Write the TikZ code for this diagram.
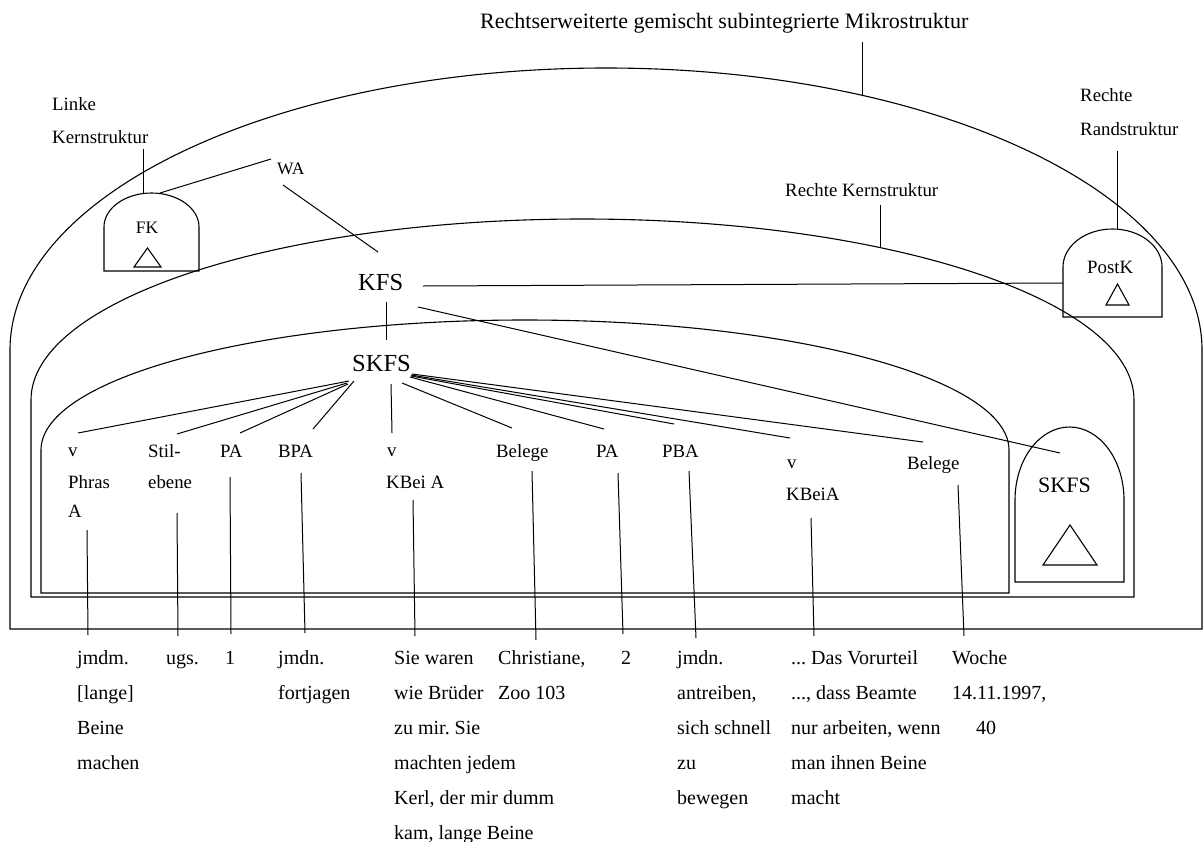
\documentclass[tikz,border=0pt]{standalone}
\usepackage{fontspec}
\setmainfont{Liberation Serif}
\frenchspacing
\newcommand\txtcol[4]{%
  \foreach \t [count=\i] in {#4} {\node[btxt] (#3-\i) at (#1, {#2 + 35*(\i-1)}) {\t};}}
\begin{document}
\begin{tikzpicture}[x=1pt,y=-1pt,
  lbl/.style={inner sep=0pt, anchor=base west, font=\fontsize{18.8}{20}\selectfont},
  smalllbl/.style={inner sep=0pt, anchor=base west, font=\fontsize{17.5}{19}\selectfont},
  btxt/.style={inner sep=0pt, anchor=base west, font=\fontsize{20}{22}\selectfont},
  ttl/.style={inner sep=0pt, anchor=base west, font=\fontsize{22}{24}\selectfont},
  big/.style={inner sep=0pt, anchor=base west, font=\fontsize{24.5}{26}\selectfont},
  mid/.style={inner sep=0pt, anchor=base west, font=\fontsize{22}{24}\selectfont},
  outline/.style={draw=black, line width=1.1pt},
  conn/.style={draw=black, line width=1pt}]
\useasboundingbox (0,0) rectangle (1204,841);

% ---- nested arches ----
\draw[outline] (10,629) -- (10,350) arc[start angle=180, end angle=0, x radius=596pt, y radius=282pt] -- (1202,629) -- cycle;
\draw[outline] (31,597) -- (31,400) arc[start angle=180, end angle=0, x radius=551.5pt, y radius=181pt] -- (1134,597) -- cycle;
\draw[outline] (41,593) -- (41,450) arc[start angle=180, end angle=0, x radius=484pt, y radius=130pt] -- (1009,593) -- cycle;

% ---- small domed boxes ----
\draw[outline] (104,271) -- (104,227) arc[start angle=180, end angle=0, x radius=47.5pt, y radius=34pt] -- (199,271) -- cycle;
\draw[outline] (134,267) -- (147.5,248) -- (161,267) -- cycle;
\draw[outline] (1063,317) -- (1063,267) arc[start angle=180, end angle=0, x radius=49.5pt, y radius=38pt] -- (1162,317) -- cycle;
\draw[outline] (1106,305) -- (1117.5,284) -- (1129,305) -- cycle;
\draw[outline] (1015,582) -- (1015,500) arc[start angle=180, end angle=0, x radius=54.5pt, y radius=73pt] -- (1124,582) -- cycle;
\draw[outline] (1043,565) -- (1070,525) -- (1097,565) -- cycle;

% ---- top labels ----
\node[ttl] (title) at (480,28) {Rechtserweiterte gemischt subintegrierte Mikrostruktur};
\node[lbl] (linke1) at (52,110) {Linke};
\node[lbl] (linke2) at (52,143) {Kernstruktur};
\node[smalllbl] (wa) at (277,174) {WA};
\node[smalllbl,anchor=base] (fk) at (147,233) {FK};
\node[lbl] (rk) at (785,196) {Rechte Kernstruktur};
\node[lbl] (rr1) at (1080,101) {Rechte};
\node[lbl] (rr2) at (1080,135) {Randstruktur};
\node[lbl] (postk) at (1087,273) {PostK};
\node[big] (kfs) at (358,290) {KFS};
\node[big] (skfs) at (352,371) {SKFS};
\node[mid] (rskfs) at (1038,492) {SKFS};

% ---- connector end points ----
\coordinate (t1) at (862,42);  \coordinate (t2) at (862,95);
\coordinate (l1) at (143,149); \coordinate (l2) at (143,193);
\coordinate (w1) at (160,193); \coordinate (w2) at (271,159);
\coordinate (w3) at (283,185); \coordinate (w4) at (378,252);
\coordinate (k1) at (880,205); \coordinate (k2) at (880,247);
\coordinate (r1) at (1117,151); \coordinate (r2) at (1117,229);
\coordinate (p1) at (423,286); \coordinate (p2) at (1063,283);
\coordinate (s1) at (386,302); \coordinate (s2) at (386,340);
\coordinate (q1) at (418,307); \coordinate (q2) at (1060,453);
\draw[conn] (t1) -- (t2);
\draw[conn] (l1) -- (l2);
\draw[conn] (w1) -- (w2);
\draw[conn] (w3) -- (w4);
\draw[conn] (k1) -- (k2);
\draw[conn] (r1) -- (r2);
\draw[conn] (p1) -- (p2);
\draw[conn] (s1) -- (s2);
\draw[conn] (q1) -- (q2);

% ---- labels inside ----
\node[lbl] (a1) at (68,456) {v};
\node[lbl] (a2) at (68,488) {Phras};
\node[lbl] (a3) at (68,517) {A};
\node[lbl] (b1) at (148,457) {Stil-};
\node[lbl] (b2) at (148,488) {ebene};
\node[lbl] (c1) at (220,457) {PA};
\node[lbl] (d1) at (278,457) {BPA};
\node[lbl] (e1) at (387,456) {v};
\node[lbl] (e2) at (386,488) {KBei A};
\node[lbl] (f1) at (496,457) {Belege};
\node[lbl] (g1) at (596,457) {PA};
\node[lbl] (h1) at (662,457) {PBA};
\node[lbl] (i1) at (787,468) {v};
\node[lbl] (i2) at (786,500) {KBeiA};
\node[lbl] (j1) at (907,469) {Belege};

% ---- fan from SKFS ----
\foreach \sx/\sy/\ex/\ey [count=\n] in {349/381/78/433, 347/383/177/434, 348/384/240/433, 354/381/313/429,
   391/384/392/433, 402/383/512/428, 410/377/604/429, 411/376/674/424, 411/375/790/438, 412/374/923/442} {
  \coordinate (fa\n) at (\sx,\sy);
  \coordinate (fb\n) at (\ex,\ey);
  \draw[conn] (fa\n) -- (fb\n);
}

% ---- drop lines to the bottom texts ----
\foreach \sx/\sy/\ex/\ey [count=\n] in {87/530/88/635, 177/513/178/636, 230/477/231/634, 301/473/305/633,
   413/500/415/636, 532/471/536/640, 618/473/623/634, 689/471/696/638, 811/518/814/636, 958/485/964/636} {
  \coordinate (da\n) at (\sx,\sy);
  \coordinate (db\n) at (\ex,\ey);
  \draw[conn] (da\n) -- (db\n);
}

% ---- bottom texts ----
\txtcol{77}{664}{x1}{jmdm., [lange], Beine, machen}
\txtcol{166}{664}{x2}{ugs.}
\txtcol{225}{664}{x3}{1}
\txtcol{278}{664}{x4}{jmdn., fortjagen}
\txtcol{394}{664}{x5}{Sie waren, wie Brüder, zu mir. Sie, machten jedem, {Kerl, der mir dumm}, {kam, lange Beine}}
\txtcol{498}{664}{x6}{{Christiane,}, Zoo 103}
\txtcol{621}{664}{x7}{2}
\txtcol{677}{664}{x8}{jmdn., {antreiben,}, sich schnell, zu, bewegen}
\node[btxt] (x9-1) at (791,664) {.{}.{}. Das Vorurteil};
\node[btxt] (x9-2) at (791,699) {.{}.{}., dass Beamte};
\node[btxt] (x9-3) at (791,734) {nur arbeiten, wenn};
\node[btxt] (x9-4) at (791,769) {man ihnen Beine};
\node[btxt] (x9-5) at (791,804) {macht};
\txtcol{952}{664}{x10}{Woche, {14.11.1997,}}
\node[btxt] (x11) at (976,734) {40};
\end{tikzpicture}
\end{document}
